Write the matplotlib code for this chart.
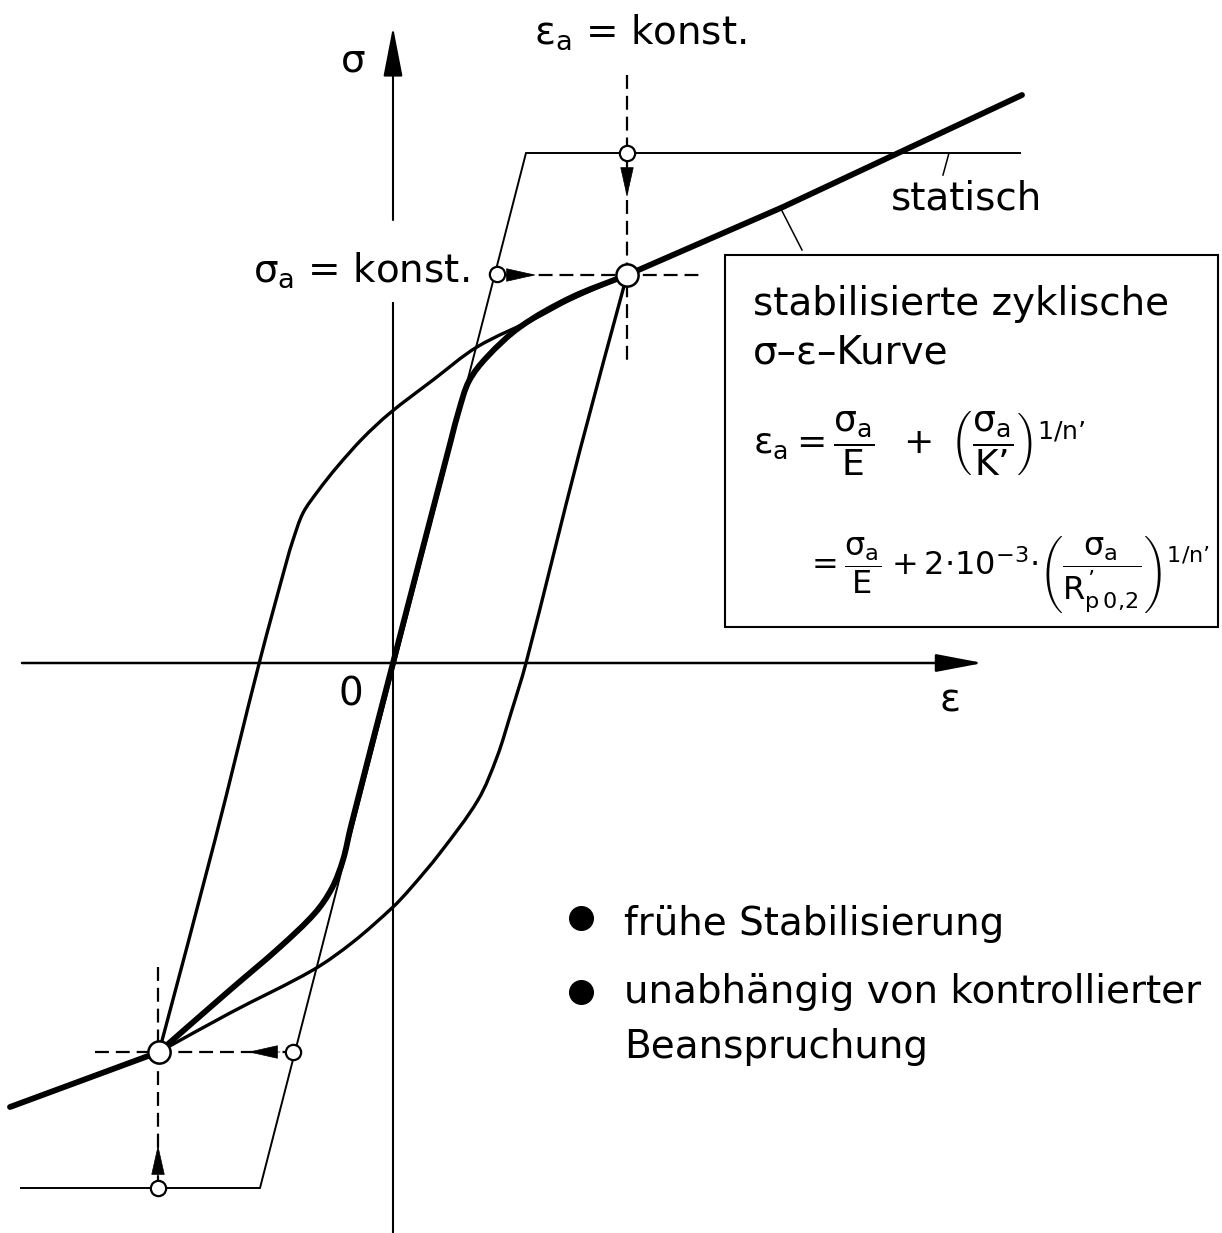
import numpy as np
import matplotlib
matplotlib.use("Agg")
import matplotlib.pyplot as plt
from matplotlib.patches import Rectangle, PathPatch
from matplotlib.path import Path

plt.rcParams['font.family'] = ['DejaVu Sans']
plt.rcParams['mathtext.fontset'] = 'custom'
plt.rcParams['mathtext.rm'] = 'DejaVu Sans'
plt.rcParams['mathtext.it'] = 'DejaVu Sans'
plt.rcParams['mathtext.bf'] = 'DejaVu Sans:bold'
plt.rcParams['lines.scale_dashes'] = False

# statische Kurve (elastisch - ideal plastisch)
stat_eps = [-3.72, -1.33, 1.33, 6.27]
stat_sig = [-5.25, -5.25, 5.10, 5.10]

# stabilisierte zyklische sigma-eps-Kurve (Aeste zwischen den Umkehrpunkten)
zykl_unten_eps = [-3.83, -2.34]
zykl_unten_sig = [-4.44, -3.89]
zykl_eps = [-2.34, -1.63, -1.13, -0.78, -0.61, -0.50, -0.42, 0.0,
            0.58, 0.66, 0.76, 0.94, 1.27, 1.77, 2.34]
zykl_sig = [-3.89, -3.27, -2.84, -2.50, -2.25, -1.97, -1.63, 0.0,
            2.23, 2.53, 2.82, 3.06, 3.36, 3.65, 3.88]
zykl_oben_eps = [2.34, 3.90, 6.29]
zykl_oben_sig = [3.88, 4.56, 5.68]

# Hystereseschleife, Belastungsast
auf_eps = [-2.34, -1.78, -1.33, -1.06, -1.00, -0.90, -0.75, -0.56, -0.30, -0.03,
           0.40, 0.84, 1.43, 1.77, 2.34]
auf_sig = [-3.89, -1.77, 0.03, 1.03, 1.23, 1.50, 1.72, 1.96, 2.25, 2.50,
           2.83, 3.16, 3.45, 3.63, 3.88]

# Hystereseschleife, Entlastungsast
ab_eps = [2.34, 1.87, 1.33, 1.18, 1.04, 0.85, 0.47, 0.17, 0.00, -0.40, -0.80, -1.63, -2.34]
ab_sig = [3.88, 2.13, 0.00, -0.50, -0.94, -1.37, -1.90, -2.26, -2.44, -2.79, -3.07, -3.50, -3.89]

# Umkehrpunkte (stabilisiert) und Punkte auf der statischen Kurve
umkehr_eps = [2.34, -2.34]
umkehr_sig = [3.88, -3.89]
start_eps = [2.34, 1.04, -1.00, -2.35]
start_sig = [5.10, 3.89, -3.89, -5.25]


def glatt(ax, xs, ys, **kw):
    # glatter Linienzug durch die Punkte (kubische Bezier-Stuecke)
    p = np.column_stack([xs, ys]).astype(float)
    n = len(p)
    t = np.zeros_like(p)
    for i in range(n):
        a = p[max(i - 1, 0)]
        b = p[min(i + 1, n - 1)]
        d = b - a
        t[i] = d / np.hypot(*d)
    verts = [p[0]]
    codes = [Path.MOVETO]
    for i in range(n - 1):
        L = np.hypot(*(p[i + 1] - p[i]))
        verts += [p[i] + t[i] * L / 3, p[i + 1] - t[i + 1] * L / 3, p[i + 1]]
        codes += [Path.CURVE4] * 3
    ax.add_patch(PathPatch(Path(verts, codes), fill=False, capstyle='round',
                           joinstyle='round', **kw))


fig = plt.figure(figsize=(12.22, 12.33), dpi=100)
ax = fig.add_axes([0, 0, 1, 1])
ax.set_xlim(-3.93, 8.29)
ax.set_ylim(-5.70, 6.63)
ax.axis('off')

# Achsen
ax.plot([0, 0], [-5.70, 3.61], color='k', lw=1.5, solid_capstyle='butt')
ax.annotate('', xy=(0, 6.36), xytext=(0, 4.43),
            arrowprops=dict(arrowstyle='-|>,head_length=3.1,head_width=0.6',
                            color='k', lw=1.5, shrinkA=0, shrinkB=0))
ax.annotate('', xy=(5.90, 0), xytext=(-3.71, 0),
            arrowprops=dict(arrowstyle='-|>,head_length=2.9,head_width=0.55',
                            color='k', lw=1.8, shrinkA=0, shrinkB=0))

# Kurven
ax.plot(stat_eps, stat_sig, color='k', lw=1.4, solid_joinstyle='miter')
glatt(ax, auf_eps, auf_sig, ec='k', lw=2.4)
glatt(ax, ab_eps, ab_sig, ec='k', lw=2.4)
ax.plot(zykl_unten_eps, zykl_unten_sig, color='k', lw=4.2, solid_capstyle='round')
glatt(ax, zykl_eps, zykl_sig, ec='k', lw=4.2)
ax.plot(zykl_oben_eps, zykl_oben_sig, color='k', lw=4.2, solid_capstyle='round')

# gestrichelte Hilfslinien mit Pfeilen
dash = dict(color='k', lw=1.6, dashes=(10, 5))
ax.plot([umkehr_eps[0], umkehr_eps[0]], [5.88, 2.98], **dash)
ax.plot([start_eps[1], 3.06], [umkehr_sig[0], umkehr_sig[0]], **dash)
ax.plot([-2.98, start_eps[2]], [umkehr_sig[1], umkehr_sig[1]], **dash)
ax.plot([start_eps[3], start_eps[3]], [-3.04, start_sig[3]], **dash)

pfeil = dict(arrowstyle='-|>,head_length=2.0,head_width=0.45', color='k', lw=0.5,
             shrinkA=0, shrinkB=0)
ax.annotate('', xy=(umkehr_eps[0], 4.66), xytext=(umkehr_eps[0], 4.98), arrowprops=pfeil)
ax.annotate('', xy=(1.43, umkehr_sig[0]), xytext=(1.11, umkehr_sig[0]), arrowprops=pfeil)
ax.annotate('', xy=(-1.45, umkehr_sig[1]), xytext=(-1.13, umkehr_sig[1]), arrowprops=pfeil)
ax.annotate('', xy=(start_eps[3], -4.82), xytext=(start_eps[3], -5.14), arrowprops=pfeil)

# Kreise
ax.plot(umkehr_eps, umkehr_sig, 'o', ms=16, mfc='white', mec='k', mew=1.8, zorder=5)
ax.plot(start_eps, start_sig, 'o', ms=11, mfc='white', mec='k', mew=1.6, zorder=5)

# Hinweislinien
ax.plot([5.50, 5.56], [4.88, 5.10], color='k', lw=1.1)
ax.plot([3.87, 4.09], [4.56, 4.13], color='k', lw=1.1)

fs = 28
ax.text(-0.40, 5.91, 'σ', fontsize=fs, ha='center', va='baseline')
ax.text(2.47, 6.19, r'$ε_{a}$ = konst.', fontsize=fs, ha='center', va='baseline')
ax.text(0.76, 3.81, r'$σ_{a}$ = konst.', fontsize=fs, ha='right', va='baseline')
ax.text(4.98, 4.54, 'statisch', fontsize=fs, ha='left', va='baseline')
ax.text(-0.42, -0.42, '0', fontsize=fs, ha='center', va='baseline')
ax.text(5.57, -0.49, 'ε', fontsize=fs, ha='center', va='baseline')

# Kasten mit Gleichung
ax.add_patch(Rectangle((3.32, 0.36), 4.93, 3.72, fill=False, ec='k', lw=1.5))
ax.text(3.60, 3.48, 'stabilisierte zyklische', fontsize=fs, va='baseline')
ax.text(3.60, 2.99, 'σ–ε–Kurve', fontsize=fs, va='baseline')
ax.text(3.60, 2.10,
        r"$ε_{a} = \dfrac{σ_{a}}{E}\;\;+\;\left(\dfrac{σ_{a}}{K’}\right)^{1/n’}$",
        fontsize=26, va='baseline')
ax.text(4.12, 0.88,
        r"$= \dfrac{σ_{a}}{E}\;{+}\,2{\cdot}10^{-3}{\cdot}\left(\dfrac{σ_{a}}{R^{’}_{p\,0{,}2}}\right)^{1/n’}$",
        fontsize=23, va='baseline')

# Aufzählung
punkte_y = [-2.55, -3.29]
ax.plot([1.88, 1.88], punkte_y, 'o', color='k', ms=17, ls='none')
ax.text(2.31, -2.72, 'frühe Stabilisierung', fontsize=fs, va='baseline')
ax.text(2.31, -3.40, 'unabhängig von kontrollierter', fontsize=fs, va='baseline')
ax.text(2.31, -3.95, 'Beanspruchung', fontsize=fs, va='baseline')

fig.savefig('out.png', dpi=100, facecolor='white')
